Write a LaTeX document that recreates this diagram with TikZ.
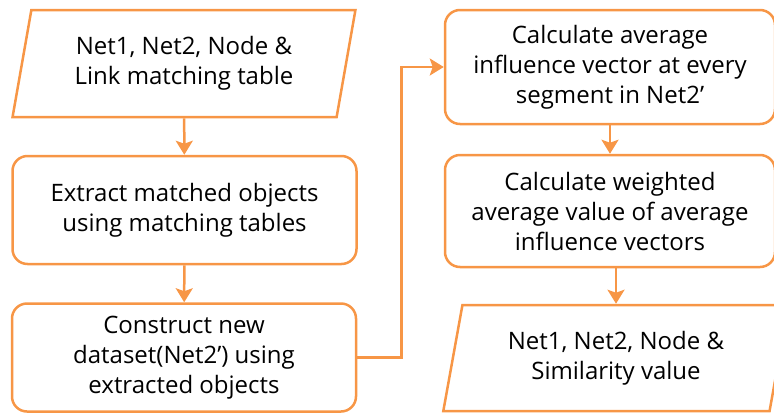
\documentclass[tikz,border=0pt]{standalone}
\usepackage{fontspec}
\newfontfamily\flowfont{Open Sans}
\usetikzlibrary{shapes.geometric,arrows.meta}
\definecolor{flowline}{RGB}{247,150,70}
\tikzset{
  boxtext/.style={align=center,font={\flowfont\fontsize{24pt}{30pt}\selectfont}},
  flowbox/.style={boxtext,draw=flowline,line width=2.5pt,rounded corners=15pt,
    minimum width=344pt,minimum height=108pt,inner sep=0pt},
  iobox/.style={boxtext,trapezium,trapezium left angle=76,trapezium right angle=104,
    trapezium stretches=true,draw=flowline,line width=2.5pt,
    minimum width=344pt,minimum height=107pt,inner sep=0pt},
  arr/.style={draw=flowline,line width=2.5pt,-{Stealth[length=14pt,width=17pt,inset=3pt]}}
}
\begin{document}
\begin{tikzpicture}[x=1pt,y=-1pt]
\useasboundingbox (0,0) rectangle (774,413);
% left column
\node[iobox]   (input)     at (184,63.5) {Net1, Net2, Node \&\\Link matching table};
\node[flowbox] (extract)   at (184.5,210) {Extract matched objects\\using matching tables};
\node[flowbox] (construct) at (184,357.5) {Construct new\\dataset(Net2’) using\\extracted objects};
% right column
\node[flowbox,minimum width=330pt,minimum height=114pt] (average)  at (610,67)  {Calculate average\\influence vector at every\\segment in Net2’};
\node[flowbox,minimum width=330pt,minimum height=112pt] (weighted) at (610,211) {Calculate weighted\\average value of average\\influence vectors};
\node[iobox,minimum width=346pt,minimum height=106pt]   (result)   at (616,358) {Net1, Net2, Node \&\\Similarity value};
% connectors
\draw[arr] (input) -- (extract);
\draw[arr] (extract) -- (construct);
\draw[arr] (construct.east) -- ++(44,0) |- (average.west);
\draw[arr] (average) -- (weighted);
\draw[arr] (weighted.south -| result.north) -- (result.north);
\end{tikzpicture}
\end{document}
